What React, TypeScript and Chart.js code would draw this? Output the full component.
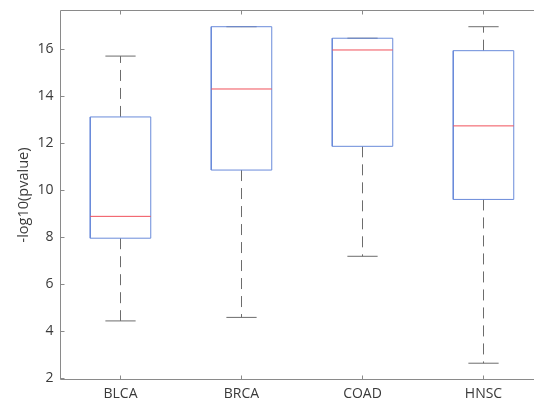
import React, { useEffect, useRef } from 'react';
import { Chart, registerables } from 'chart.js';

Chart.register(...registerables);

// ---- data ----
const categories = ['BLCA', 'BRCA', 'COAD', 'HNSC'];
const whiskerLow = [4.45, 4.6, 7.2, 2.65];
const q1 = [7.97, 10.87, 11.88, 9.62];
const median = [8.9, 14.32, 15.98, 12.75];
const q3 = [13.13, 16.97, 16.48, 15.95];
const whiskerHigh = [15.72, 16.97, 16.48, 16.97];
const yTicks = [2, 4, 6, 8, 10, 12, 14, 16];
const yTitle = '-log10(pvalue)';

// ---- style ----
const BOX_HALF = 0.25;
const CAP_HALF = 0.125;
const BLUE = '#6a8bda';
const RED = '#f0505a';
const WHISKER = '#6c6c6c';
const AXIS = '#8a8a8a';
const TEXT = '#3a3a3a';
const FONT = "'Open Sans', 'DejaVu Sans', sans-serif";
const CANVAS_W = 545;

function buildDatasets() {
  const ds: any[] = [];
  const base = { showLine: true, pointRadius: 0, pointHoverRadius: 0, fill: false, tension: 0, borderWidth: 1 };
  categories.forEach((_, i) => {
    const p = i + 1;
    // whiskers (dashed)
    ds.push({ ...base, order: 3, borderColor: WHISKER, borderDash: [11, 7],
      data: [{ x: p, y: q3[i] }, { x: p, y: whiskerHigh[i] }] });
    ds.push({ ...base, order: 3, borderColor: WHISKER, borderDash: [11, 7],
      data: [{ x: p, y: q1[i] }, { x: p, y: whiskerLow[i] }] });
    // caps
    ds.push({ ...base, order: 3, borderColor: WHISKER,
      data: [{ x: p - CAP_HALF, y: whiskerHigh[i] }, { x: p + CAP_HALF, y: whiskerHigh[i] }] });
    ds.push({ ...base, order: 3, borderColor: WHISKER,
      data: [{ x: p - CAP_HALF, y: whiskerLow[i] }, { x: p + CAP_HALF, y: whiskerLow[i] }] });
    // box
    ds.push({ ...base, order: 2, borderColor: BLUE,
      data: [
        { x: p - BOX_HALF, y: q1[i] }, { x: p + BOX_HALF, y: q1[i] },
        { x: p + BOX_HALF, y: q3[i] }, { x: p - BOX_HALF, y: q3[i] },
        { x: p - BOX_HALF, y: q1[i] },
      ] });
    // median
    ds.push({ ...base, order: 1, borderColor: RED,
      data: [{ x: p - BOX_HALF, y: median[i] }, { x: p + BOX_HALF, y: median[i] }] });
  });
  return ds;
}

const axesPlugin = {
  id: 'matlabAxes',
  afterDraw(chart: any) {
    const { ctx, chartArea, scales } = chart;
    const { left, right, top, bottom } = chartArea;
    const x = scales.x, y = scales.y;
    ctx.save();
    ctx.strokeStyle = AXIS;
    ctx.lineWidth = 1;
    ctx.setLineDash([]);
    ctx.beginPath();
    ctx.moveTo(left, top); ctx.lineTo(left, bottom);
    ctx.moveTo(left, bottom); ctx.lineTo(right, bottom);
    ctx.moveTo(left, top); ctx.lineTo(right, top);
    const tl = 4;
    yTicks.forEach((v) => {
      const py = Math.round(y.getPixelForValue(v) - 0.5) + 0.5;
      ctx.moveTo(left, py); ctx.lineTo(left + tl, py);
    });
    categories.forEach((_, i) => {
      const px = Math.round(x.getPixelForValue(i + 1) - 0.5) + 0.5;
      ctx.moveTo(px, bottom); ctx.lineTo(px, bottom - tl);
      ctx.moveTo(px, top); ctx.lineTo(px, top + tl);
    });
    ctx.stroke();
    ctx.restore();
  },
};

export default function App() {
  const ref = useRef<HTMLCanvasElement>(null);
  useEffect(() => {
    if (!ref.current) return;
    const chart = new Chart(ref.current, {
      type: 'scatter',
      data: { datasets: buildDatasets() },
      options: {
        animation: false,
        responsive: false,
        devicePixelRatio: 1,
        layout: { padding: { top: 10.5, right: 0, left: 0, bottom: 0 } },
        plugins: { legend: { display: false }, tooltip: { enabled: false } },
        scales: {
          x: {
            type: 'linear',
            min: 0.5041,
            max: 0.5041 + (CANVAS_W - 60.5) / 121,
            grid: { display: false, drawTicks: false },
            border: { display: false },
            afterBuildTicks: (s: any) => { s.ticks = categories.map((_, i) => ({ value: i + 1 })); },
            afterFit: (s: any) => { s.height = 22.5; s.paddingLeft = 0; s.paddingRight = 0; },
            ticks: {
              autoSkip: false,
              maxRotation: 0,
              padding: 6,
              color: TEXT,
              font: { family: FONT, size: 14 },
              callback: (v: any) => categories[Math.round(v) - 1] ?? '',
            },
          },
          y: {
            type: 'linear',
            min: 1.957,
            max: 17.66,
            grid: { display: false, drawTicks: false },
            border: { display: false },
            afterBuildTicks: (s: any) => { s.ticks = yTicks.map((v) => ({ value: v })); },
            afterFit: (s: any) => { s.width = 60.5; s.paddingTop = 0; s.paddingBottom = 0; },
            ticks: {
              padding: 7,
              color: TEXT,
              font: { family: FONT, size: 14 },
              callback: (v: any) => String(v),
            },
            title: {
              display: true,
              text: yTitle,
              color: TEXT,
              font: { family: FONT, size: 14.5 },
              padding: { top: 15, bottom: 0 },
            },
          },
        },
      },
      plugins: [axesPlugin],
    } as any);
    return () => chart.destroy();
  }, []);
  return (
    <div style={{ position: 'fixed', left: 0, top: 0, width: 534, height: 402, background: '#fff', overflow: 'hidden' }}>
      <canvas ref={ref} width={CANVAS_W} height={402} style={{ display: 'block', width: CANVAS_W, height: 402 }} />
    </div>
  );
}
